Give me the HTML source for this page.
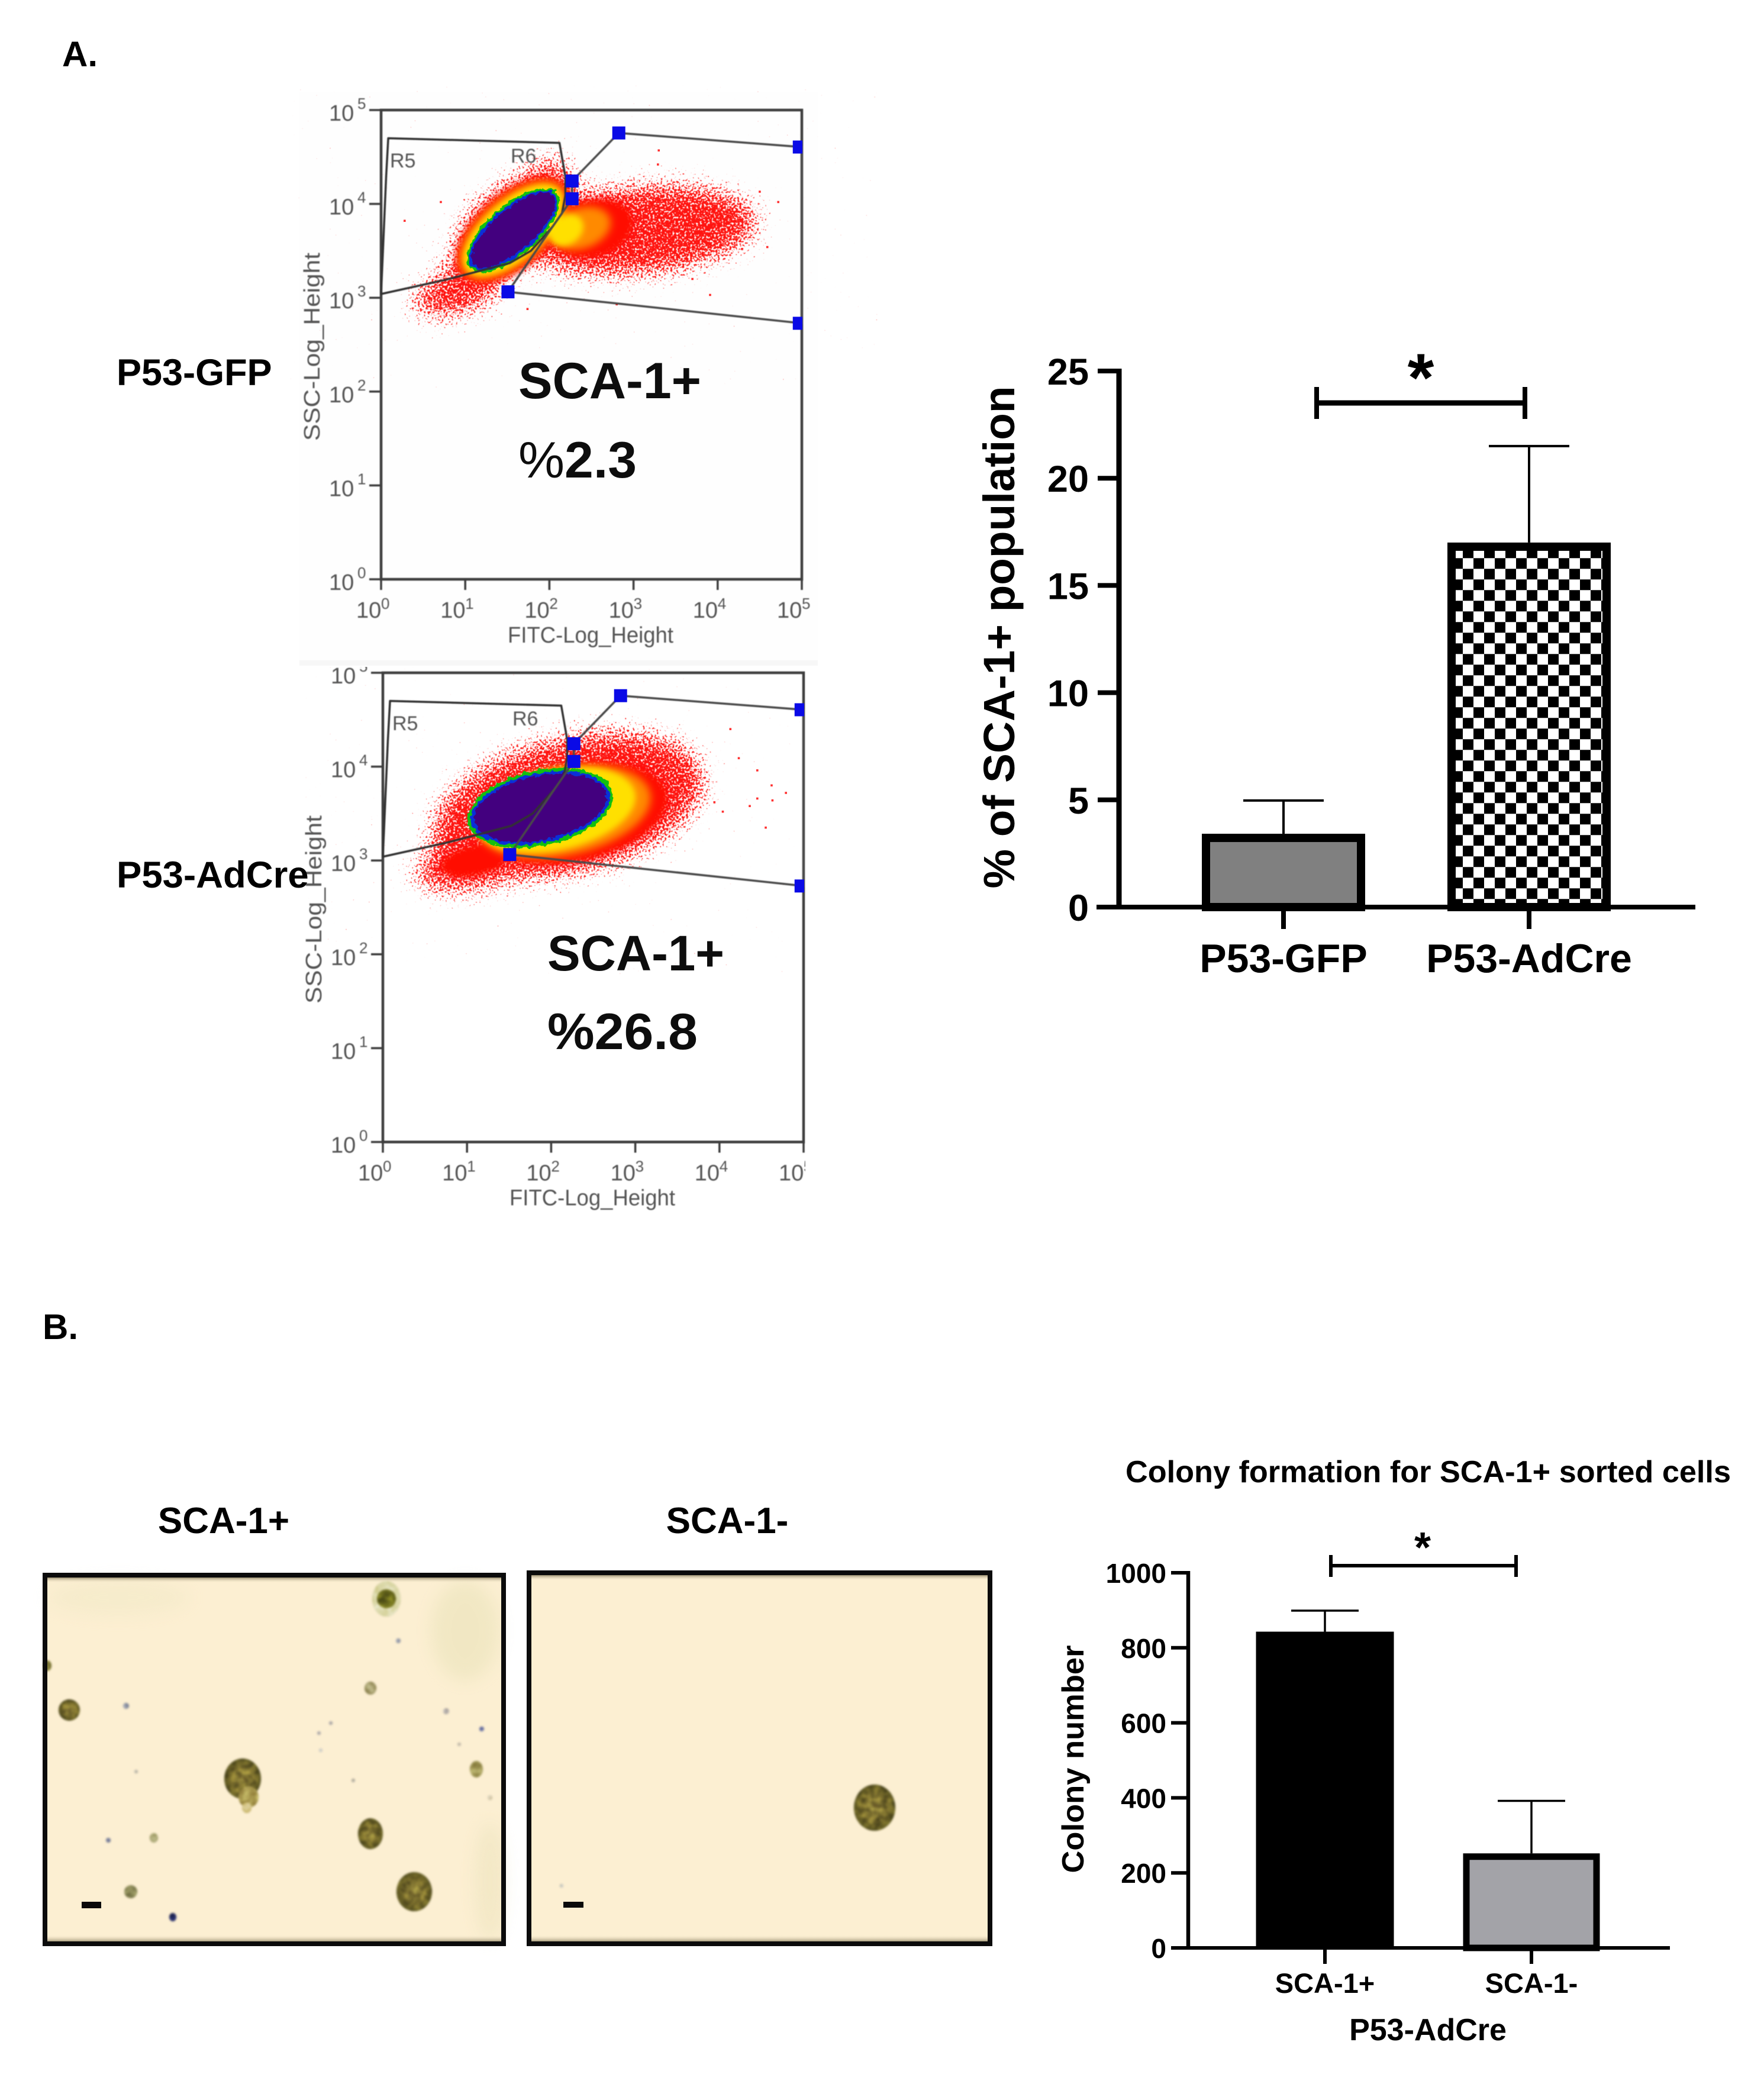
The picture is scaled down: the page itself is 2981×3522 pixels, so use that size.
<!DOCTYPE html>
<html lang="en">
<head>
<meta charset="utf-8">
<title>SCA-1 flow cytometry and colony formation</title>
<style>
html,body{margin:0;padding:0;background:#fff;width:2981px;height:3522px;overflow:hidden}
svg{display:block}
text{font-family:"Liberation Sans",sans-serif}
</style>
</head>
<body>
<svg id="figure" xmlns="http://www.w3.org/2000/svg" width="2981" height="3522" viewBox="0 0 2981 3522">
<defs>
  <filter id="speckle" x="-30%" y="-30%" width="160%" height="160%" color-interpolation-filters="sRGB">
    <feGaussianBlur in="SourceAlpha" stdDeviation="24" result="d"/>
    <feTurbulence type="fractalNoise" baseFrequency="0.3" numOctaves="2" seed="11" result="n"/>
    <feComposite in="d" in2="n" operator="arithmetic" k1="0" k2="0.5" k3="1" k4="-0.85" result="s"/>
    <feComponentTransfer in="s" result="t"><feFuncA type="linear" slope="16" intercept="0"/></feComponentTransfer>
    <feFlood flood-color="#ff1410" result="c"/>
    <feComposite in="c" in2="t" operator="in" result="dots"/>
    <feGaussianBlur in="dots" stdDeviation="0.6"/>
  </filter>
  <filter id="rough" x="-15%" y="-15%" width="130%" height="130%" color-interpolation-filters="sRGB">
    <feTurbulence type="fractalNoise" baseFrequency="0.12" numOctaves="2" seed="4" result="n"/>
    <feDisplacementMap in="SourceGraphic" in2="n" scale="10" xChannelSelector="R" yChannelSelector="G"/>
  </filter>
  <filter id="softA" x="-25%" y="-25%" width="150%" height="150%"><feGaussianBlur stdDeviation="7"/></filter>
  <filter id="softB" x="-25%" y="-25%" width="150%" height="150%"><feGaussianBlur stdDeviation="5"/></filter>
  <filter id="textBlur" x="-5%" y="-5%" width="110%" height="110%"><feGaussianBlur stdDeviation="0.7"/></filter>
  <filter id="imgBlur" x="-20%" y="-20%" width="140%" height="140%" color-interpolation-filters="sRGB">
    <feTurbulence type="fractalNoise" baseFrequency="0.09" numOctaves="2" seed="8" result="n"/>
    <feColorMatrix in="n" type="matrix" values="0.6 0 0 0 0.2  0.6 0 0 0 0.2  0.6 0 0 0 0.2  0 0 0 0 1" result="g"/>
    <feComposite in="g" in2="SourceAlpha" operator="in" result="gc"/>
    <feBlend in="gc" in2="SourceGraphic" mode="overlay" result="b"/>
    <feGaussianBlur in="b" stdDeviation="1.8"/>
  </filter>
  <filter id="haloBlur" x="-60%" y="-60%" width="220%" height="220%"><feGaussianBlur stdDeviation="14"/></filter>
  <pattern id="checker" patternUnits="userSpaceOnUse" x="2472" y="943.3" width="36" height="36">
    <rect width="36" height="36" fill="#fff"/>
    <rect x="18" y="0" width="18" height="18" fill="#000"/>
    <rect x="0" y="18" width="18" height="18" fill="#000"/>
  </pattern>
  <radialGradient id="colony" cx="50%" cy="50%" r="55%">
    <stop offset="0" stop-color="#8e8038"/>
    <stop offset="0.6" stop-color="#75692a"/>
    <stop offset="0.92" stop-color="#5c5620"/>
    <stop offset="1" stop-color="#6b6a50"/>
  </radialGradient>
  <linearGradient id="edgeTop" x1="0" y1="0" x2="0" y2="1">
    <stop offset="0" stop-color="#9a8f70"/><stop offset="1" stop-color="#fcefd2" stop-opacity="0"/>
  </linearGradient>
  <linearGradient id="edgeBottom" x1="0" y1="1" x2="0" y2="0">
    <stop offset="0" stop-color="#9a8f70"/><stop offset="1" stop-color="#fcefd2" stop-opacity="0"/>
  </linearGradient>
  <clipPath id="plot2Clip"><rect x="430" y="1127" width="931" height="1000"/></clipPath>
</defs>

<rect width="2981" height="3522" fill="#fff"/>
<rect x="506" y="155" width="876" height="967" fill="#fefefe"/>
<rect x="506" y="1116" width="876" height="9" fill="#f7f7f7"/>

<g id="flow1">
  <g id="flow1Marks"></g>
  <g filter="url(#textBlur)" fill="#555">
    <text x="858" y="1086" font-size="38" textLength="280" lengthAdjust="spacingAndGlyphs">FITC-Log_Height</text>
    <text transform="translate(540,745) rotate(-90)" font-size="38" textLength="318" lengthAdjust="spacingAndGlyphs">SSC-Log_Height</text>
    <text x="659" y="283" font-size="34">R5</text>
    <text x="863" y="275" font-size="34">R6</text>
  </g>
  <g fill="#0d0d0d">
    <text x="876" y="673" font-size="86" font-weight="700" textLength="309" lengthAdjust="spacingAndGlyphs">SCA-1+</text>
    <text x="876" y="807" font-size="86" textLength="200" lengthAdjust="spacingAndGlyphs">%<tspan font-weight="700">2.3</tspan></text>
  </g>
</g>

<g id="flow2">
  <g clip-path="url(#plot2Clip)">
    <g id="flow2Marks"></g>
    <g filter="url(#textBlur)" fill="#555">
      <text x="861" y="2037" font-size="38" textLength="280" lengthAdjust="spacingAndGlyphs">FITC-Log_Height</text>
      <text transform="translate(543,1696) rotate(-90)" font-size="38" textLength="318" lengthAdjust="spacingAndGlyphs">SSC-Log_Height</text>
      <text x="663" y="1234" font-size="34">R5</text>
      <text x="866" y="1226" font-size="34">R6</text>
    </g>
  </g>
  <g fill="#0d0d0d">
    <text x="925" y="1640" font-size="84" font-weight="700" textLength="299" lengthAdjust="spacingAndGlyphs">SCA-1+</text>
    <text x="925" y="1773" font-size="86" font-weight="700" textLength="254" lengthAdjust="spacingAndGlyphs">%26.8</text>
  </g>
</g>

<g font-weight="700" fill="#000">
  <text x="105" y="112" font-size="60">A.</text>
  <text x="72" y="2263" font-size="60">B.</text>
  <text x="197" y="651" font-size="63">P53-GFP</text>
  <text x="197" y="1500" font-size="63.5">P53-AdCre</text>
  <text x="378" y="2591" font-size="62" text-anchor="middle">SCA-1+</text>
  <text x="1229" y="2591" font-size="62" text-anchor="middle">SCA-1-</text>
</g>

<g id="chartA">
  <g id="chartAMarks"></g>
  <text transform="translate(1714,1077) rotate(-90)" font-size="74" font-weight="700" text-anchor="middle" textLength="849" lengthAdjust="spacingAndGlyphs">% of SCA-1+ population</text>
  <line x1="2225" y1="681" x2="2577" y2="681" stroke="#000" stroke-width="9"/>
  <line x1="2225" y1="654" x2="2225" y2="708" stroke="#000" stroke-width="8"/>
  <line x1="2577" y1="654" x2="2577" y2="708" stroke="#000" stroke-width="8"/>
  <text x="2401" y="678" font-size="115" font-weight="700" text-anchor="middle">*</text>
</g>

<g id="micro">
  <g>
    <rect x="72" y="2658" width="783" height="631" fill="#fcefd2"/>
    <ellipse cx="786" cy="2756" rx="58" ry="85" fill="#d9d8a4" opacity="0.3" filter="url(#haloBlur)"/>
    <ellipse cx="200" cy="2700" rx="120" ry="30" fill="#e8e4bb" opacity="0.25" filter="url(#haloBlur)"/>
    <ellipse cx="828" cy="3180" rx="24" ry="100" fill="#e2dcb0" opacity="0.35" filter="url(#haloBlur)"/>
    <rect x="78" y="2666" width="771" height="9" fill="url(#edgeTop)"/>
    <rect x="78" y="3270" width="771" height="12" fill="url(#edgeBottom)"/>
    <g filter="url(#imgBlur)">
      <ellipse cx="653" cy="2702" rx="24" ry="30" fill="#dcd9aa"/>
      <ellipse cx="653" cy="2702" rx="16" ry="16" fill="#6a6a1c"/>
      <ellipse cx="117" cy="2890" rx="18" ry="18" fill="url(#colony)"/>
      <ellipse cx="626" cy="2853" rx="10" ry="11" fill="#a49c6a"/>
      <ellipse cx="410" cy="3006" rx="31" ry="34" fill="url(#colony)"/>
      <ellipse cx="420" cy="3037" rx="17" ry="18" fill="#a9994e"/>
      <ellipse cx="417" cy="3055" rx="8" ry="9" fill="#d8c98e"/>
      <ellipse cx="626" cy="3099" rx="21" ry="26" fill="url(#colony)"/>
      <ellipse cx="700" cy="3197" rx="30" ry="33" fill="url(#colony)"/>
      <ellipse cx="221" cy="3197" rx="11" ry="11" fill="#8c8a58"/>
      <ellipse cx="805" cy="2990" rx="11" ry="14" fill="#a39a58"/>
      <ellipse cx="260" cy="3106" rx="7" ry="8" fill="#a6a26e"/>
      <ellipse cx="80" cy="2815" rx="7" ry="9" fill="#8f8a40"/>
      <ellipse cx="292" cy="3240" rx="6" ry="7" fill="#28306e"/>
      <circle cx="673" cy="2773" r="4" fill="#8a90a0"/>
      <circle cx="213" cy="2883" r="5" fill="#8a90a0"/>
      <circle cx="754" cy="2892" r="5" fill="#a79f9a"/>
      <circle cx="814" cy="2922" r="4" fill="#7078a8"/>
      <circle cx="559" cy="2912" r="3" fill="#bbb8b8"/>
      <circle cx="539" cy="2929" r="3" fill="#bbb8b8"/>
      <circle cx="542" cy="2958" r="3" fill="#c8c8c0"/>
      <circle cx="776" cy="2948" r="3" fill="#c8c0b0"/>
      <circle cx="230" cy="2994" r="3" fill="#c4c0b4"/>
      <circle cx="597" cy="3009" r="3" fill="#c4c0b4"/>
      <circle cx="183" cy="3110" r="4" fill="#8a90a8"/>
      <circle cx="828" cy="3038" r="4" fill="#d4c8a8"/>
    </g>
    <rect x="138" y="3214" width="33" height="11" fill="#0a0a0a"/>
    <rect x="76" y="2662" width="775" height="623" fill="none" stroke="#0b0b0b" stroke-width="8"/>
  </g>
  <g>
    <rect x="890" y="2654" width="787" height="635" fill="#fcefd2"/>
    <rect x="896" y="2662" width="775" height="9" fill="url(#edgeTop)"/>
    <rect x="896" y="3270" width="775" height="12" fill="url(#edgeBottom)"/>
    <g filter="url(#imgBlur)">
      <ellipse cx="1478" cy="3055" rx="35" ry="39" fill="url(#colony)"/>
      <circle cx="949" cy="3187" r="3" fill="#ccccc4"/>
    </g>
    <rect x="952" y="3214" width="34" height="10" fill="#0a0a0a"/>
    <rect x="894" y="2658" width="779" height="627" fill="none" stroke="#0b0b0b" stroke-width="8"/>
  </g>
</g>

<g id="chartB">
  <text x="1902" y="2505" font-size="52" font-weight="700" textLength="1023" lengthAdjust="spacingAndGlyphs">Colony formation for SCA-1+ sorted cells</text>
  <g id="chartBMarks"></g>
  <text transform="translate(1831,2973) rotate(-90)" font-size="52" font-weight="700" text-anchor="middle" textLength="385" lengthAdjust="spacingAndGlyphs">Colony number</text>
  <text x="2413" y="3448" font-size="52" font-weight="700" text-anchor="middle">P53-AdCre</text>
  <line x1="2249" y1="2646" x2="2562" y2="2646" stroke="#000" stroke-width="6"/>
  <line x1="2249" y1="2628" x2="2249" y2="2665" stroke="#000" stroke-width="6"/>
  <line x1="2562" y1="2628" x2="2562" y2="2665" stroke="#000" stroke-width="6"/>
  <text x="2404" y="2640" font-size="72" font-weight="700" text-anchor="middle">*</text>
</g>

<script>
/* ---------- flow cytometry data (log10 decades) ---------- */
const flowDecades = [0, 1, 2, 3, 4, 5];
const gateR5X = [0, 0.06, 0.085, 2.12, 2.19, 2.19, 2.15, 2.04, 1.78, 1.53, 1.19, 0.76];
const gateR5Y = [3.04, 4.29, 4.70, 4.65, 4.29, 4.09, 3.90, 3.76, 3.50, 3.37, 3.29, 3.19];
const gateR6X = [2.825, 5.0, 5.0, 1.508, 2.04, 2.27, 2.27];
const gateR6Y = [4.756, 4.606, 2.728, 3.063, 3.76, 4.055, 4.244];
const gateMarkerX = [2.825, 4.97, 4.97, 1.508, 2.27, 2.27];
const gateMarkerY = [4.756, 4.606, 2.728, 3.063, 4.055, 4.244];

const gfpCloudLevel = ['speck', 'speck', 'speck', 'speck', 'red', 'orange', 'yellow', 'red', 'orange', 'yellow', 'green', 'blue', 'purple'];
const gfpCloudX     = [1.55, 3.05, 0.90, 2.05, 2.50, 2.38, 2.20, 1.57, 1.57, 1.57, 1.57, 1.57, 1.57];
const gfpCloudY     = [3.78, 3.72, 3.05, 4.45, 3.74, 3.74, 3.72, 3.72, 3.72, 3.72, 3.72, 3.72, 3.72];
const gfpCloudLong  = [0.92, 1.50, 0.62, 0.25, 0.50, 0.36, 0.22, 0.82, 0.77, 0.72, 0.68, 0.65, 0.62];
const gfpCloudShort = [0.50, 0.58, 0.30, 0.10, 0.34, 0.24, 0.17, 0.44, 0.39, 0.34, 0.30, 0.27, 0.24];
const gfpCloudAngle = [-41, -5, -15, -5, -15, -20, -35, -41, -41, -41, -41, -41, -41];
const gfpOutlierX = [4.59, 4.29, 4.72, 4.50, 3.91, 3.70, 2.80, 3.30, 3.29, 0.28, 0.71, 1.74];
const gfpOutlierY = [3.54, 3.52, 4.02, 4.13, 3.03, 3.20, 2.93, 4.57, 4.42, 3.82, 4.02, 2.88];

const adCloudLevel = ['speck', 'speck', 'red', 'red', 'orange', 'yellow', 'green', 'blue', 'purple'];
const adCloudX     = [2.20, 1.10, 2.25, 1.10, 2.15, 2.05, 1.87, 1.87, 1.87];
const adCloudY     = [3.58, 2.95, 3.50, 3.00, 3.52, 3.54, 3.56, 3.56, 3.56];
const adCloudLong  = [1.72, 0.82, 1.15, 0.42, 1.05, 0.97, 0.88, 0.84, 0.80];
const adCloudShort = [0.86, 0.34, 0.58, 0.18, 0.52, 0.48, 0.45, 0.41, 0.38];
const adCloudAngle = [-14, -10, -12, -12, -12, -12, -12, -12, -12];
const adOutlierX = [4.45, 4.62, 4.45, 4.79, 4.63, 4.55, 4.04, 3.94, 4.36, 4.13, 4.23];
const adOutlierY = [3.96, 3.80, 3.66, 3.72, 3.64, 3.35, 3.52, 3.62, 3.58, 4.40, 4.09];

/* ---------- bar chart A data ---------- */
const chartACategories = ['P53-GFP', 'P53-AdCre'];
const chartAMeans = [3.42, 17.0];
const chartAUpper = [4.97, 21.5];
const chartATicks = [0, 5, 10, 15, 20, 25];

/* ---------- bar chart B data ---------- */
const chartBCategories = ['SCA-1+', 'SCA-1-'];
const chartBMeans = [843, 252];
const chartBUpper = [899, 392];
const chartBTicks = [0, 200, 400, 600, 800, 1000];

const SVGNS = 'http://www.w3.org/2000/svg';
function mk(tag, attrs, parent) {
  const n = document.createElementNS(SVGNS, tag);
  for (const k in attrs) n.setAttribute(k, attrs[k]);
  parent.appendChild(n);
  return n;
}

const levelFill = { speck: '#000', red: '#ff0a00', orange: '#ff8a00', yellow: '#ffe000', green: '#12c010', blue: '#0a30d8', purple: '#43007f' };
const levelFilter = { speck: 'url(#speckle)', red: 'url(#softB)', orange: 'url(#softA)', yellow: 'url(#softB)', green: 'url(#rough)', blue: 'url(#rough)', purple: 'url(#rough)' };
const levelOrder = ['speck', 'red', 'orange', 'yellow', 'green', 'blue', 'purple'];

function drawFlow(host, L, R, T, B, cLevel, cX, cY, cLong, cShort, cAngle, oX, oY) {
  const fx = d => L + d * (R - L) / 5;
  const fy = d => B - d * (B - T) / 5;
  const dx = (R - L) / 5;

  levelOrder.forEach(function (level) {
    const g = mk('g', { filter: levelFilter[level] }, host);
    
    
    cLevel.forEach(function (lv, i) {
      if (lv !== level) return;
      const e = mk('ellipse', {
        cx: fx(cX[i]), cy: fy(cY[i]), rx: cLong[i] * dx, ry: cShort[i] * dx,
        transform: 'rotate(' + cAngle[i] + ' ' + fx(cX[i]) + ' ' + fy(cY[i]) + ')',
        fill: levelFill[level]
      }, g);
      
      
    });
  });

  oX.forEach(function (v, i) {
    const p = mk('rect', { x: fx(v) - 1.8, y: fy(oY[i]) - 1.8, width: 3.6, height: 3.6, fill: '#ff3030' }, host);
    
    
  });

  const frame = mk('g', { filter: 'url(#textBlur)' }, host);
  
  

  const box = mk('rect', { x: L, y: T, width: R - L, height: B - T, fill: 'none', stroke: '#3d3d3d', 'stroke-width': 4.5 }, frame);
  
  

  flowDecades.forEach(function (d) {
    const ty = mk('line', { x1: L - 20, x2: L, y1: fy(d), y2: fy(d), stroke: '#3d3d3d', 'stroke-width': 3.5 }, frame);
    
    
    const tx = mk('line', { x1: fx(d), x2: fx(d), y1: B, y2: B + 18, stroke: '#3d3d3d', 'stroke-width': 3.5 }, frame);
    
    

    const ly = mk('text', { x: L - 88, y: fy(d) + 18, 'font-size': 38, fill: '#555' }, frame);
    
    
    ly.textContent = '10';
    const sy = mk('text', { x: L - 40, y: fy(d) - 2, 'font-size': 26, fill: '#555' }, frame);
    
    
    sy.textContent = String(d);

    const lx = mk('text', { x: fx(d) - 42, y: B + 65, 'font-size': 38, fill: '#555' }, frame);
    
    
    lx.textContent = '10';
    const sx = mk('text', { x: fx(d) + 0, y: B + 50, 'font-size': 26, fill: '#555' }, frame);
    
    
    sx.textContent = String(d);
  });

  const r5 = mk('polygon', { points: gateR5X.map((v, i) => fx(v) + ',' + fy(gateR5Y[i])).join(' '), fill: 'none', stroke: '#333', 'stroke-width': 3.5, 'stroke-linejoin': 'round' }, frame);
  
  
  const r6 = mk('polyline', { points: gateR6X.map((v, i) => fx(v) + ',' + fy(gateR6Y[i])).join(' ') + ' ' + fx(gateR6X[0]) + ',' + fy(gateR6Y[0]), fill: 'none', stroke: '#4a4a4a', 'stroke-width': 3.5 }, frame);
  
  

  gateMarkerX.forEach(function (v, i) {
    const size = 22;
    const left = fx(v) - size / 2;
    const width = Math.min(size, R + 1 - left);
    const m = mk('rect', { x: left, y: fy(gateMarkerY[i]) - size / 2, width: width, height: size, fill: '#0a0ae6' }, host);
    
    
  });
}

drawFlow(document.getElementById('flow1Marks'), 644, 1355, 186, 979, gfpCloudLevel, gfpCloudX, gfpCloudY, gfpCloudLong, gfpCloudShort, gfpCloudAngle, gfpOutlierX, gfpOutlierY);
drawFlow(document.getElementById('flow2Marks'), 647, 1358, 1137, 1930, adCloudLevel, adCloudX, adCloudY, adCloudLong, adCloudShort, adCloudAngle, adOutlierX, adOutlierY);

/* ---------- chart A ---------- */
(function () {
  const host = document.getElementById('chartAMarks');
  const y = v => 1533 - v * (1533 - 627) / 25;
  const cx = i => 2169 + i * 415;
  const barW = 276, sw = 14;
  const fills = ['#808080', 'url(#checker)'];

  chartAMeans.forEach(function (v, i) {
    const stem = mk('line', { x1: cx(i), x2: cx(i), y1: y(chartAUpper[i]), y2: y(v), stroke: '#000', 'stroke-width': 4 }, host);
    
    
    const cap = mk('line', { x1: cx(i) - 68, x2: cx(i) + 68, y1: y(chartAUpper[i]), y2: y(chartAUpper[i]), stroke: '#000', 'stroke-width': 4 }, host);
    
    
    const bar = mk('rect', { x: cx(i) - barW / 2 + sw / 2, y: y(v) + sw / 2, width: barW - sw, height: y(0) - y(v) - sw / 2, fill: fills[i], stroke: '#000', 'stroke-width': sw }, host);
    
    
    const tick = mk('line', { x1: cx(i), x2: cx(i), y1: y(0), y2: 1570, stroke: '#000', 'stroke-width': 8 }, host);
    
    
    const lab = mk('text', { x: cx(i), y: 1643, 'font-size': 68, 'font-weight': 700, 'text-anchor': 'middle' }, host);
    
    
    lab.textContent = chartACategories[i];
  });

  const yAxis = mk('line', { x1: 1891, x2: 1891, y1: y(25) - 4, y2: y(0) + 4, stroke: '#000', 'stroke-width': 9 }, host);
  
  
  const xAxis = mk('line', { x1: 1853, x2: 2865, y1: y(0), y2: y(0), stroke: '#000', 'stroke-width': 8 }, host);
  
  

  chartATicks.forEach(function (t) {
    const tk = mk('line', { x1: 1855, x2: 1891, y1: y(t), y2: y(t), stroke: '#000', 'stroke-width': 8 }, host);
    
    
    const lb = mk('text', { x: 1840, y: y(t) + 23, 'font-size': 63, 'font-weight': 700, 'text-anchor': 'end' }, host);
    
    
    lb.textContent = String(t);
  });
})();

/* ---------- chart B ---------- */
(function () {
  const host = document.getElementById('chartBMarks');
  const y = v => 3292 - v * (3292 - 2658) / 1000;
  const cx = i => 2239 + i * 349;
  const barW = [233, 231];
  const sw = [0, 11];
  const fills = ['#000', '#a3a3a8'];

  chartBMeans.forEach(function (v, i) {
    const stem = mk('line', { x1: cx(i), x2: cx(i), y1: y(chartBUpper[i]), y2: y(v), stroke: '#000', 'stroke-width': 3.5 }, host);
    
    
    const cap = mk('line', { x1: cx(i) - 57, x2: cx(i) + 57, y1: y(chartBUpper[i]), y2: y(chartBUpper[i]), stroke: '#000', 'stroke-width': 3.5 }, host);
    
    
    const bar = mk('rect', { x: cx(i) - barW[i] / 2 + sw[i] / 2, y: y(v) + sw[i] / 2, width: barW[i] - sw[i], height: y(0) - y(v) - sw[i] / 2, fill: fills[i], stroke: '#000', 'stroke-width': sw[i] }, host);
    
    
    const tick = mk('line', { x1: cx(i), x2: cx(i), y1: y(0), y2: 3319, stroke: '#000', 'stroke-width': 6 }, host);
    
    
    const lab = mk('text', { x: cx(i), y: 3368, 'font-size': 47, 'font-weight': 700, 'text-anchor': 'middle' }, host);
    
    
    lab.textContent = chartBCategories[i];
  });

  const yAxis = mk('line', { x1: 2008, x2: 2008, y1: y(1000) - 3, y2: y(0) + 3, stroke: '#000', 'stroke-width': 6.5 }, host);
  
  
  const xAxis = mk('line', { x1: 1979, x2: 2822, y1: y(0), y2: y(0), stroke: '#000', 'stroke-width': 6 }, host);
  
  

  chartBTicks.forEach(function (t) {
    const tk = mk('line', { x1: 1979, x2: 2008, y1: y(t), y2: y(t), stroke: '#000', 'stroke-width': 6 }, host);
    
    
    const lb = mk('text', { x: 1971, y: y(t) + 17, 'font-size': 46, 'font-weight': 700, 'text-anchor': 'end' }, host);
    
    
    lb.textContent = String(t);
  });
})();
</script>
</svg>
</body>
</html>
